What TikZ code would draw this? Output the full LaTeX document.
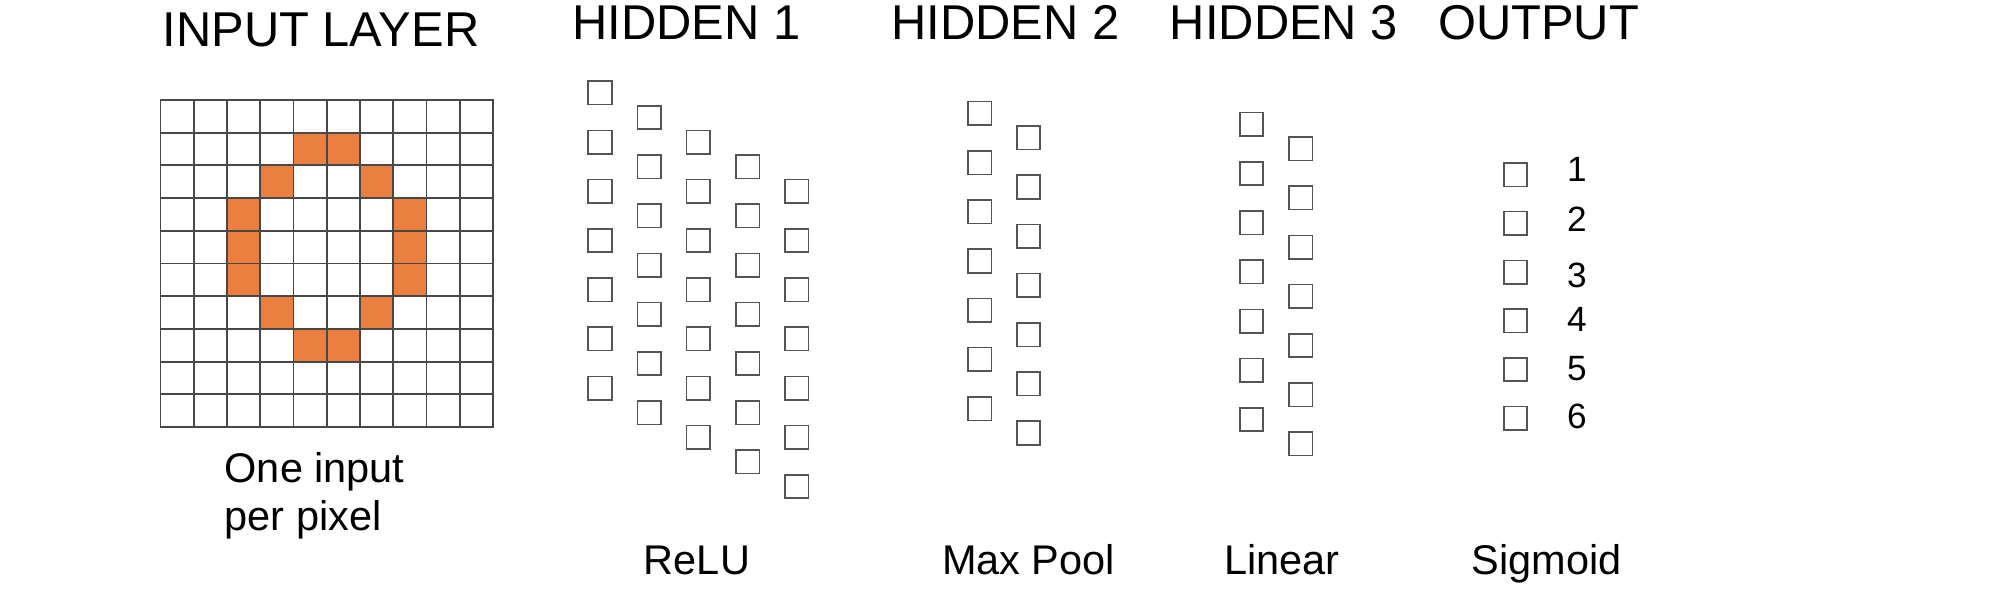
\documentclass[tikz,border=0pt]{standalone}
\usepackage{fontspec}
\setmainfont{Liberation Sans}
\usepackage{tikz}
\usetikzlibrary{backgrounds}
\definecolor{cellgray}{HTML}{555555}
\definecolor{pixelon}{HTML}{EA7F3F}
\tikzset{>=latex}
\tikzset{unit/.style={anchor=center,rectangle,draw=cellgray,line width=0.45pt,
    inner sep=0pt,minimum size=0.235cm}}
\tikzset{pixel/.style={anchor=center,rectangle,draw=cellgray!85!black,line width=0.55pt,
    inner sep=0pt,minimum width=0.3325cm,minimum height=0.327cm}}
\tikzset{title/.style={anchor=base,inner sep=0pt,font=\fontsize{13.9}{16}\selectfont}}
\tikzset{caption/.style={anchor=base,inner sep=0pt,font=\fontsize{11.8}{13.9}\selectfont}}
\tikzset{digit/.style={anchor=center,inner sep=0pt,font=\fontsize{10}{12}\selectfont}}

\begin{document}
\begin{tikzpicture}
    \useasboundingbox (0, 0) rectangle (20.08, 6.04);

    \node [title] (t-in) at (3.21, 5.573) {INPUT LAYER};
    \node [title] (t-h1) at (6.866, 5.64) {HIDDEN 1};
    \node [title] (t-h2) at (10.055, 5.64) {HIDDEN 2};
    \node [title] (t-h3) at (12.84, 5.64) {HIDDEN 3};
    \node [title] (t-out) at (15.385, 5.64) {OUTPUT};

    \foreach \r in {0,...,9}
        \foreach \c in {0,...,9}
            \node [pixel] (px-\r-\c) at ({1.605+(\c+0.5)*0.3325}, {5.04-(\r+0.5)*0.327}) {};

    \begin{scope}[on background layer]
        \foreach \r/\a in {1/4, 2/3, 3/2, 4/2, 5/2, 6/3, 7/4} {
            \pgfmathtruncatemacro{\b}{9-\a}
            \fill [pixelon] (px-\r-\a.south west) rectangle (px-\r-\a.north east);
            \fill [pixelon] (px-\r-\b.south west) rectangle (px-\r-\b.north east);
        }
    \end{scope}

    \node [caption,anchor=base west,align=left] (perpixel) at (2.24, 0.73)
    {One input\\per pixel};

    \foreach \k in {0,...,4}
        \foreach \j in {0,...,6}
            \node [unit] (ha-\k-\j) at ({6.00+0.492*\k}, {5.111-0.246*\k-0.492*\j}) {};

    \foreach \k in {0,1}
        \foreach \j in {0,...,6}
            \node [unit] (hb-\k-\j) at ({9.796+0.489*\k}, {4.906-0.244*\k-0.492*\j}) {};

    \foreach \k in {0,1}
        \foreach \j in {0,...,6}
            \node [unit] (hc-\k-\j) at ({12.515+0.493*\k}, {4.797-0.244*\k-0.492*\j}) {};

    \foreach \j [count=\n] in {0,...,5}
        \node [unit] (out-\n) at (15.155, {4.293-0.487*\j}) {};

    \foreach \n/\y in {1/4.35, 2/3.845, 3/3.29, 4/2.847, 5/2.356, 6/1.876}
        \node [digit] (num-\n) at (15.77, \y) {\n};

    \node [caption] (relu) at (6.97, 0.29) {ReLU};
    \node [caption] (maxpool) at (10.285, 0.29) {Max Pool};
    \node [caption] (linear) at (12.82, 0.29) {Linear};
    \node [caption] (sigmoid) at (15.467, 0.29) {Sigmoid};
  \end{tikzpicture}
\end{document}
